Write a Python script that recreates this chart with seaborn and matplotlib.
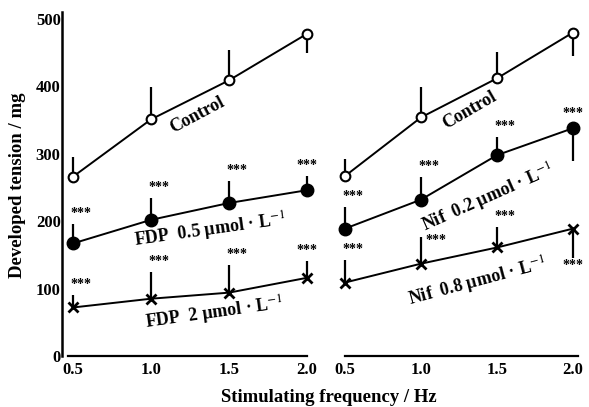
import numpy as np
import pandas as pd
import matplotlib
matplotlib.use("Agg")
import matplotlib.pyplot as plt
import seaborn as sns

# stimulation frequency (Hz)
freq = [0.5, 1.0, 1.5, 2.0]
freq_labels = ["0.5", "1.0", "1.5", "2.0"]

# left panel: FDP
control_fdp = [266, 351, 409, 478]
control_fdp_err = [30, 48, 45, 29]
control_fdp_dir = [1, 1, 1, -1]
fdp05 = [167, 202, 227, 246]
fdp05_err = [29, 32, 33, 21]
fdp05_dir = [1, 1, 1, 1]
fdp2 = [72, 85, 94, 116]
fdp2_err = [19, 39, 41, 25]
fdp2_dir = [1, 1, 1, 1]

# right panel: nifedipine
control_nif = [267, 354, 412, 480]
control_nif_err = [26, 45, 39, 35]
control_nif_dir = [1, 1, 1, -1]
nif02 = [189, 232, 298, 338]
nif02_err = [32, 33, 27, 48]
nif02_dir = [1, 1, 1, -1]
nif08 = [109, 137, 161, 189]
nif08_err = [34, 39, 30, 43]
nif08_dir = [1, 1, 1, -1]

y_ticks = [0, 100, 200, 300, 400, 500]

sns.set_theme(style="white")
plt.rcParams['font.family'] = ['Liberation Serif', 'DejaVu Serif']
plt.rcParams['mathtext.fontset'] = 'stix'
plt.rcParams['text.color'] = 'black'
plt.rcParams['axes.labelcolor'] = 'black'
plt.rcParams['xtick.color'] = 'black'
plt.rcParams['ytick.color'] = 'black'

fig = plt.figure(figsize=(5.89, 4.07), dpi=100)
ax1 = fig.add_axes([0.1053, 0.1253, 0.429, 0.8445])
ax2 = fig.add_axes([0.5728, 0.1253, 0.4129, 0.8445])

styles = {
    'open': dict(marker='o', markersize=7, markerfacecolor='white', markeredgecolor='black', markeredgewidth=1.5),
    'fill': dict(marker='o', markersize=9, markerfacecolor='black', markeredgecolor='black', markeredgewidth=1),
    'x': dict(marker='x', markersize=6.5, markerfacecolor='black', markeredgecolor='black', markeredgewidth=2),
}


def draw_series(ax, vals, err, dirs, style, stars=True, star_below=False, side=()):
    df = pd.DataFrame({'f': freq, 'v': vals})
    sns.lineplot(data=df, x='f', y='v', ax=ax, color='black', linewidth=1.4,
                 errorbar=None, zorder=3, **styles[style])
    e = np.array(err)
    d = np.array(dirs)
    lower = np.where(d < 0, e, 0)
    upper = np.where(d > 0, e, 0)
    ax.errorbar(freq, vals, yerr=[lower, upper], fmt='none', ecolor='black',
                elinewidth=1.6, capsize=0, zorder=2)
    if not stars:
        return
    for i, (f, v, ee, dd) in enumerate(zip(freq, vals, e, d)):
        dx = 0.05 if i < len(freq) - 1 else 0.0
        if i in side:
            # stars beside the top of the bar
            ax.text(f + 0.03, v + ee - 4, '***', ha='left', va='center',
                    fontsize=10, fontweight='bold')
            continue
        if dd > 0:
            ys = v + ee + 6
            va = 'bottom'
        elif star_below:
            ys = v - ee - 2
            va = 'top'
        else:
            ys = v + 12
            va = 'bottom'
        ax.text(f + dx, ys, '***', ha='center', va=va, fontsize=10, fontweight='bold')


draw_series(ax1, control_fdp, control_fdp_err, control_fdp_dir, 'open', stars=False)
draw_series(ax1, fdp05, fdp05_err, fdp05_dir, 'fill')
draw_series(ax1, fdp2, fdp2_err, fdp2_dir, 'x')

draw_series(ax2, control_nif, control_nif_err, control_nif_dir, 'open', stars=False)
draw_series(ax2, nif02, nif02_err, nif02_dir, 'fill')
draw_series(ax2, nif08, nif08_err, nif08_dir, 'x', star_below=True, side=(1,))

lab = dict(fontsize=13, fontweight='bold', ha='center', va='center', rotation_mode='anchor')
ax1.text(1.30, 358, 'Control', rotation=28, **lab)
ax1.text(1.38, 186, 'FDP  0.5 μmol · L$^{-1}$', rotation=8, **lab)
ax1.text(1.41, 62, 'FDP  2 μmol · L$^{-1}$', rotation=8, **lab)
ax2.text(1.32, 365, 'Control', rotation=30, **lab)
ax2.text(1.44, 233, 'Nif  0.2 μmol · L$^{-1}$', rotation=24, **lab)
ax2.text(1.37, 109, 'Nif  0.8 μmol · L$^{-1}$', rotation=15, **lab)

for ax in (ax1, ax2):
    ax.set_ylim(0, 510)
    ax.set_xticks(freq)
    ax.set_xticklabels(freq_labels, fontsize=12, fontweight='bold')
    ax.set_xlabel('')
    ax.set_ylabel('')
    for s in ('top', 'right'):
        ax.spines[s].set_visible(False)
    ax.spines['bottom'].set_color('black')
    ax.spines['bottom'].set_linewidth(1.6)
    ax.tick_params(axis='x', direction='in', length=2, width=1, pad=4)

ax1.set_xlim(0.43, 2.05)
ax2.set_xlim(0.45, 2.05)
ax1.spines['bottom'].set_bounds(0.47, 2.0)
ax2.spines['bottom'].set_bounds(0.5, 2.03)

ax1.spines['left'].set_color('black')
ax1.spines['left'].set_linewidth(1.8)
ax1.set_yticks(y_ticks)
ax1.set_yticklabels([str(t) for t in y_ticks], fontsize=12, fontweight='bold')
ax1.tick_params(axis='y', direction='in', length=3, width=1, pad=1)

ax2.spines['left'].set_visible(False)
ax2.set_yticks([])

fig.text(0.03, 0.545, 'Developed tension / mg', rotation=90, ha='center', va='center',
         fontsize=13.5, fontweight='bold')
fig.text(0.559, 0.024, 'Stimulating frequency / Hz', ha='center', va='center',
         fontsize=13.5, fontweight='bold')

fig.savefig('out.png', dpi=100)
